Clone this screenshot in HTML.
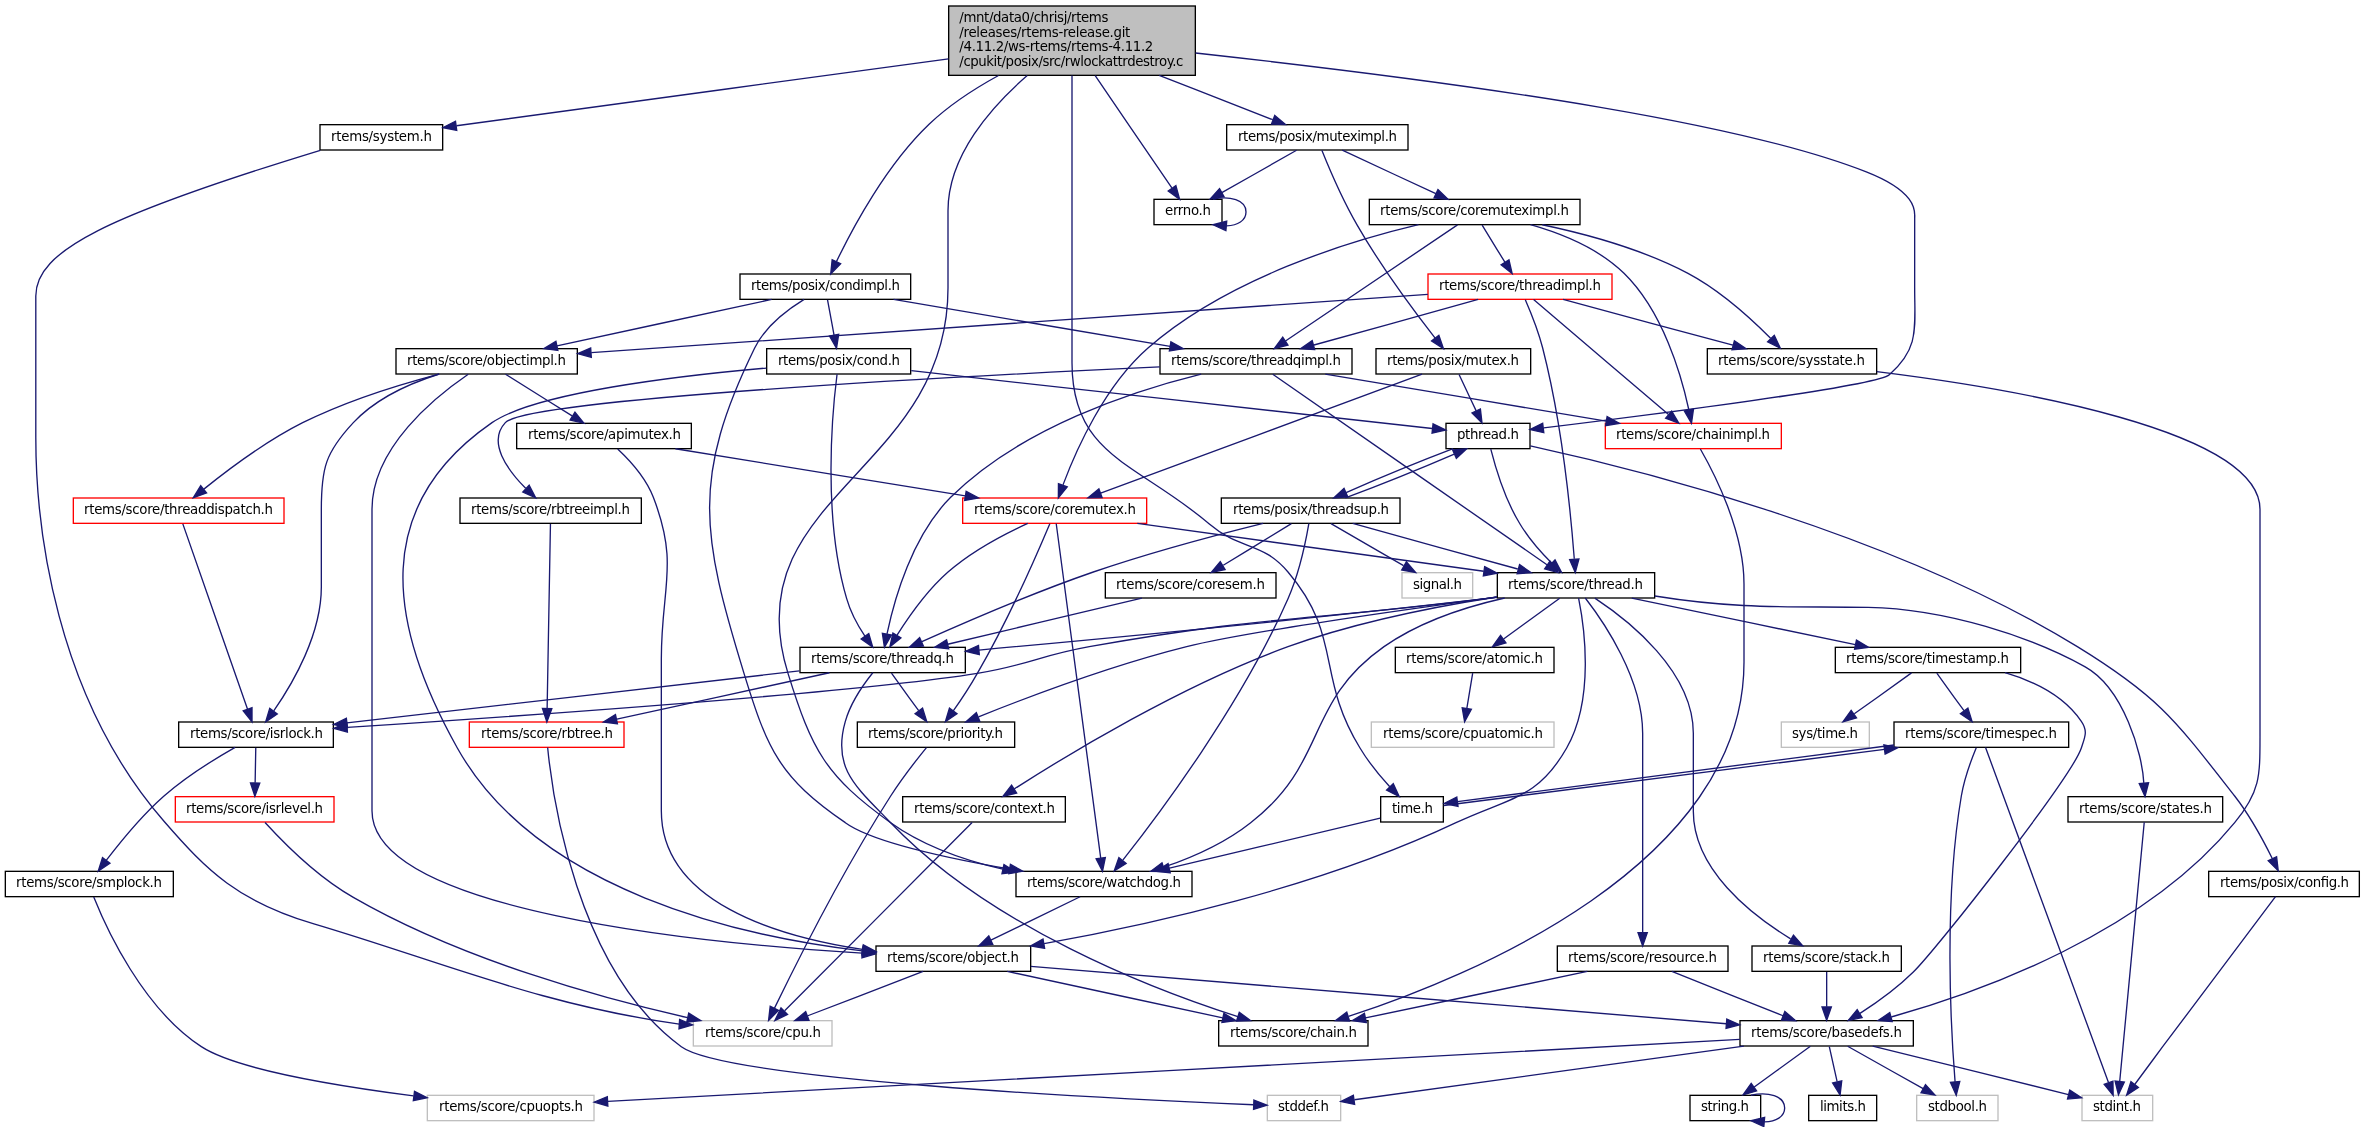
<!DOCTYPE html>
<html><head><meta charset="utf-8"><title>rwlockattrdestroy.c include dependency graph</title>
<style>
html,body{margin:0;padding:0;background:#fff}
body{width:2365px;height:1127px;overflow:hidden}
svg{display:block;will-change:transform}
text{font-family:"DejaVu Sans","Liberation Sans",sans-serif;font-size:13.333px;fill:#000;white-space:pre}
.e path{fill:none;stroke:#191970;stroke-width:1.333}
.e polygon{fill:#191970;stroke:#191970;stroke-width:1.333}
.n rect{stroke-width:1.333}
</style></head><body>
<svg width="2365" height="1127" viewBox="0 0 2365 1127">
<g class="n">
<rect x="948.67" y="6" width="246.67" height="69.33" fill="#bfbfbf" stroke="#000"/><text x="959.33" y="22" textLength="149">/mnt/data0/chrisj/rtems</text><text x="959.33" y="37" textLength="171">/releases/rtems-release.git</text><text x="959.33" y="51" textLength="194">/4.11.2/ws-rtems/rtems-4.11.2</text><text x="959.33" y="66" textLength="224">/cpukit/posix/src/rwlockattrdestroy.c</text>
<rect x="1446" y="423.33" width="84" height="25.33" fill="#fff" stroke="#000"/><text x="1457" y="439" textLength="62">pthread.h</text>
<rect x="1016" y="871.33" width="176" height="25.33" fill="#fff" stroke="#000"/><text x="1027" y="887" textLength="154">rtems/score/watchdog.h</text>
<rect x="1380.67" y="796.67" width="62.67" height="25.33" fill="#fff" stroke="#000"/><text x="1392" y="813" textLength="41">time.h</text>
<rect x="1154" y="199.33" width="68" height="25.33" fill="#fff" stroke="#000"/><text x="1165" y="215" textLength="46">errno.h</text>
<rect x="320" y="124.67" width="122.67" height="25.33" fill="#fff" stroke="#000"/><text x="331" y="141" textLength="101">rtems/system.h</text>
<rect x="740" y="274" width="170.67" height="25.33" fill="#fff" stroke="#000"/><text x="751" y="290" textLength="149">rtems/posix/condimpl.h</text>
<rect x="1226.67" y="124.67" width="181.33" height="25.33" fill="#fff" stroke="#000"/><text x="1238" y="141" textLength="159">rtems/posix/muteximpl.h</text>
<rect x="2208.67" y="871.33" width="150.67" height="25.33" fill="#fff" stroke="#000"/><text x="2220" y="887" textLength="129">rtems/posix/config.h</text>
<rect x="1221.33" y="498" width="178.67" height="25.33" fill="#fff" stroke="#000"/><text x="1233" y="514" textLength="156">rtems/posix/threadsup.h</text>
<rect x="1497.33" y="572.67" width="157.33" height="25.33" fill="#fff" stroke="#000"/><text x="1508" y="589" textLength="135">rtems/score/thread.h</text>
<rect x="2082" y="1095.33" width="70.67" height="25.33" fill="#fff" stroke="#bfbfbf"/><text x="2093" y="1111" textLength="48">stdint.h</text>
<rect x="1105.33" y="572.67" width="170.67" height="25.33" fill="#fff" stroke="#000"/><text x="1116" y="589" textLength="149">rtems/score/coresem.h</text>
<rect x="800" y="647.33" width="165.33" height="25.33" fill="#fff" stroke="#000"/><text x="811" y="663" textLength="143">rtems/score/threadq.h</text>
<rect x="1402" y="572.67" width="70.67" height="25.33" fill="#fff" stroke="#bfbfbf"/><text x="1413" y="589" textLength="49">signal.h</text>
<rect x="1218.67" y="1020.67" width="149.33" height="25.33" fill="#fff" stroke="#000"/><text x="1230" y="1037" textLength="127">rtems/score/chain.h</text>
<rect x="178.67" y="722" width="154.67" height="25.33" fill="#fff" stroke="#000"/><text x="190" y="738" textLength="133">rtems/score/isrlock.h</text>
<rect x="857.33" y="722" width="157.33" height="25.33" fill="#fff" stroke="#000"/><text x="868" y="738" textLength="135">rtems/score/priority.h</text>
<rect x="469.33" y="722" width="154.67" height="25.33" fill="#fff" stroke="#f00"/><text x="481" y="738" textLength="132">rtems/score/rbtree.h</text>
<rect x="175.33" y="796.67" width="158.67" height="25.33" fill="#fff" stroke="#f00"/><text x="186" y="813" textLength="137">rtems/score/isrlevel.h</text>
<rect x="5.33" y="871.33" width="168" height="25.33" fill="#fff" stroke="#000"/><text x="16" y="887" textLength="146">rtems/score/smplock.h</text>
<rect x="693.33" y="1020.67" width="138.67" height="25.33" fill="#fff" stroke="#bfbfbf"/><text x="705" y="1037" textLength="116">rtems/score/cpu.h</text>
<rect x="427.33" y="1095.33" width="166.67" height="25.33" fill="#fff" stroke="#bfbfbf"/><text x="439" y="1111" textLength="144">rtems/score/cpuopts.h</text>
<rect x="1267.33" y="1095.33" width="73.33" height="25.33" fill="#fff" stroke="#bfbfbf"/><text x="1278" y="1111" textLength="51">stddef.h</text>
<rect x="1395.33" y="647.33" width="158.67" height="25.33" fill="#fff" stroke="#000"/><text x="1406" y="663" textLength="137">rtems/score/atomic.h</text>
<rect x="902.67" y="796.67" width="162.67" height="25.33" fill="#fff" stroke="#000"/><text x="914" y="813" textLength="141">rtems/score/context.h</text>
<rect x="876" y="946" width="154.67" height="25.33" fill="#fff" stroke="#000"/><text x="887" y="962" textLength="132">rtems/score/object.h</text>
<rect x="1557.33" y="946" width="170.67" height="25.33" fill="#fff" stroke="#000"/><text x="1568" y="962" textLength="149">rtems/score/resource.h</text>
<rect x="1752" y="946" width="149.33" height="25.33" fill="#fff" stroke="#000"/><text x="1763" y="962" textLength="127">rtems/score/stack.h</text>
<rect x="2068" y="796.67" width="154.67" height="25.33" fill="#fff" stroke="#000"/><text x="2079" y="813" textLength="133">rtems/score/states.h</text>
<rect x="1835.33" y="647.33" width="185.33" height="25.33" fill="#fff" stroke="#000"/><text x="1846" y="663" textLength="163">rtems/score/timestamp.h</text>
<rect x="1371.33" y="722" width="182.67" height="25.33" fill="#fff" stroke="#bfbfbf"/><text x="1383" y="738" textLength="160">rtems/score/cpuatomic.h</text>
<rect x="1740" y="1020.67" width="173.33" height="25.33" fill="#fff" stroke="#000"/><text x="1751" y="1037" textLength="151">rtems/score/basedefs.h</text>
<rect x="1916.67" y="1095.33" width="81.33" height="25.33" fill="#fff" stroke="#bfbfbf"/><text x="1928" y="1111" textLength="59">stdbool.h</text>
<rect x="1808.67" y="1095.33" width="68" height="25.33" fill="#fff" stroke="#000"/><text x="1820" y="1111" textLength="46">limits.h</text>
<rect x="1690" y="1095.33" width="70.67" height="25.33" fill="#fff" stroke="#000"/><text x="1701" y="1111" textLength="48">string.h</text>
<rect x="1781.33" y="722" width="88" height="25.33" fill="#fff" stroke="#bfbfbf"/><text x="1792" y="738" textLength="66">sys/time.h</text>
<rect x="1894" y="722" width="174.67" height="25.33" fill="#fff" stroke="#000"/><text x="1905" y="738" textLength="152">rtems/score/timespec.h</text>
<rect x="766.67" y="348.67" width="144" height="25.33" fill="#fff" stroke="#000"/><text x="778" y="365" textLength="122">rtems/posix/cond.h</text>
<rect x="396" y="348.67" width="181.33" height="25.33" fill="#fff" stroke="#000"/><text x="407" y="365" textLength="159">rtems/score/objectimpl.h</text>
<rect x="1160" y="348.67" width="192" height="25.33" fill="#fff" stroke="#000"/><text x="1171" y="365" textLength="170">rtems/score/threadqimpl.h</text>
<rect x="516.67" y="423.33" width="174.67" height="25.33" fill="#fff" stroke="#000"/><text x="528" y="439" textLength="153">rtems/score/apimutex.h</text>
<rect x="73.33" y="498" width="210.67" height="25.33" fill="#fff" stroke="#f00"/><text x="84" y="514" textLength="189">rtems/score/threaddispatch.h</text>
<rect x="962.67" y="498" width="184" height="25.33" fill="#fff" stroke="#f00"/><text x="974" y="514" textLength="162">rtems/score/coremutex.h</text>
<rect x="1605.33" y="423.33" width="176" height="25.33" fill="#fff" stroke="#f00"/><text x="1616" y="439" textLength="154">rtems/score/chainimpl.h</text>
<rect x="460" y="498" width="181.33" height="25.33" fill="#fff" stroke="#000"/><text x="471" y="514" textLength="159">rtems/score/rbtreeimpl.h</text>
<rect x="1376" y="348.67" width="154.67" height="25.33" fill="#fff" stroke="#000"/><text x="1387" y="365" textLength="132">rtems/posix/mutex.h</text>
<rect x="1369.33" y="199.33" width="210.67" height="25.33" fill="#fff" stroke="#000"/><text x="1380" y="215" textLength="189">rtems/score/coremuteximpl.h</text>
<rect x="1707.33" y="348.67" width="169.33" height="25.33" fill="#fff" stroke="#000"/><text x="1718" y="365" textLength="147">rtems/score/sysstate.h</text>
<rect x="1428" y="274" width="184" height="25.33" fill="#fff" stroke="#f00"/><text x="1439" y="290" textLength="162">rtems/score/threadimpl.h</text>
</g>
<g class="e">
<path d="M1195.6,53C1501.9,86.9 1745.3,124.3 1866.3,171.9C1918.9,192.6 1914.7,212.7 1914.7,218C1914.67,210.67 1914.67,210.67 1914.67,288 1914.67,328.12 1919.57,348.28 1889.33,374.67 1876.41,385.93 1650.87,414.79 1543.69,427.93"/><polygon points="1543.81,432.63 1530.01,429.61 1542.68,423.36 1543.81,432.63"/>
<path d="M1027.23,75.53C991.72,106.31 948,155.41 948,210.67 948,210.67 948,210.67 948,288 948,473.43 733,496.24 788,673.33 811.89,750.24 825.17,775.77 890.67,822.67 923.41,846.11 965.04,860.4 1002.81,869.12"/><polygon points="1003.95,864.59 1015.99,871.97 1001.97,873.72 1003.95,864.59"/>
<path d="M1072,75.6C1072,109.64 1072,163.81 1072,210.67 1072,210.67 1072,210.67 1072,362.67 1072,456.83 1137.72,462.85 1209.33,524 1240.48,550.59 1261.44,540.81 1288,572 1342.81,636.32 1315.73,676 1360,748 1368.33,761.91 1379.67,775.8 1389.75,786.71"/><polygon points="1393.31,783.68 1399.22,796.51 1386.59,790.16 1393.31,783.68"/>
<path d="M1095.2,75.72C1117.96,109.05 1152.08,159.12 1171.84,187.97"/><polygon points="1175.9,185.63 1179.61,199.27 1168.21,190.92 1175.9,185.63"/>
<path d="M948.52,58.8C805.57,78.25 574.68,109.68 456.41,125.77"/><polygon points="456.75,130.44 442.91,127.61 455.49,121.19 456.75,130.44"/>
<path d="M998.51,75.51C974.77,88.51 949.43,104.91 929.33,124 886.14,165.15 852.68,227.8 836.45,261.64"/><polygon points="840.61,263.76 830.73,273.85 832.16,259.8 840.61,263.76"/>
<path d="M1159.19,75.4C1197.84,90.45 1241.3,107.53 1272.78,119.72"/><polygon points="1274.79,115.49 1285.58,124.63 1271.44,124.21 1274.79,115.49"/>
<path d="M1530.28,445.95C1630.89,467.77 1890.16,531.83 2077.33,646.67 2159.51,697.08 2175.21,720.09 2234.67,796 2249.87,815.55 2263.3,840.4 2272.26,858.47"/><polygon points="2276.61,856.73 2278.22,870.77 2268.21,860.8 2276.61,856.73"/>
<path d="M1453.12,448.73C1422.03,460.53 1377.03,479.08 1346.08,492.55"/><polygon points="1347.78,496.89 1333.7,497.97 1344.03,488.35 1347.78,496.89"/>
<path d="M1490.79,449.21C1495.19,466.56 1504.85,499.41 1520,524 1528.59,538.33 1540.73,552.23 1551.63,563.03"/><polygon points="1555.02,559.8 1561.52,572.35 1548.62,566.6 1555.02,559.8"/>
<path d="M2275.48,896.68C2255.68,923.03 2205.07,990.41 2162.67,1046.67 2153.39,1059.2 2143.15,1073.19 2134.7,1084.51"/><polygon points="2138.41,1087.35 2126.64,1095.16 2130.96,1081.72 2138.41,1087.35"/>
<path d="M1345.41,497.97C1377,486.2 1423,467.65 1454.27,454.17"/><polygon points="1452.6,449.81 1466.68,448.73 1456.35,458.36 1452.6,449.81"/>
<path d="M1291.39,523.56C1273.07,534.79 1245.06,552.03 1223.29,565.23"/><polygon points="1225.07,569.6 1211.23,572.45 1220.27,561.59 1225.07,569.6"/>
<path d="M1263.11,523.36C1218.73,534.37 1150.92,552.28 1093.33,572 1032.09,593.15 963.33,623.07 921.88,641.65"/><polygon points="923.46,646.07 909.38,647.25 919.63,637.55 923.46,646.07"/>
<path d="M1352.71,523.4C1397.24,535.72 1468.18,555.41 1517.74,568.99"/><polygon points="1519.56,564.64 1531.21,572.64 1517.12,573.65 1519.56,564.64"/>
<path d="M1308.84,523.6C1305.91,540.6 1299.29,573.04 1288,598.67 1241.84,703.76 1159.3,813.99 1122.83,860.2"/><polygon points="1126.16,863.51 1114.2,871 1118.88,857.68 1126.16,863.51"/>
<path d="M1331.01,523.56C1350.54,534.89 1380.47,552.36 1403.56,565.6"/><polygon points="1406.34,561.81 1415.62,572.45 1401.72,569.92 1406.34,561.81"/>
<path d="M1141.87,598.07C1089.38,610.57 1005.3,630.67 947.7,644.25"/><polygon points="948.7,648.81 934.65,647.31 946.57,639.72 948.7,648.81"/>
<path d="M872.79,672.77C863.63,684.2 850.65,702.69 845.33,721.33 831.77,768.77 856.43,787.13 890.67,822.67 990.84,927.4 1154.2,989.95 1237.86,1016.68"/><polygon points="1239.28,1012.23 1250.63,1020.65 1236.51,1021.15 1239.28,1012.23"/>
<path d="M799.45,670.89C682,684.39 468.4,708.92 346.91,722.88"/><polygon points="347.43,727.52 333.64,724.4 346.36,718.25 347.43,727.52"/>
<path d="M891.48,673.21C898.83,683.39 909.55,698.31 918.68,710.73"/><polygon points="922.58,708.17 926.77,721.65 915.08,713.72 922.58,708.17"/>
<path d="M829.43,672.73C771.93,685.29 679.67,705.51 616.83,719.09"/><polygon points="617.41,723.75 603.39,721.97 615.46,714.61 617.41,723.75"/>
<path d="M255.77,747.88C255.6,757.32 255.36,770.84 255.13,782.68"/><polygon points="259.8,783.08 254.88,796.32 250.47,782.91 259.8,783.08"/>
<path d="M235.11,747.35C215.65,758.41 186.39,776.4 164,796 141.86,815.52 120.51,841.75 106.4,860.21"/><polygon points="109.97,863.24 98.23,871.09 102.51,857.63 109.97,863.24"/>
<path d="M265.05,822.43C281.88,840.84 316.91,876.51 353.33,897.33 462.14,960.15 603.59,998.75 687.68,1017.71"/><polygon points="688.72,1013.16 700.74,1020.59 686.72,1022.28 688.72,1013.16"/>
<path d="M93.75,897C105.83,927.21 142.49,1008.29 201.33,1046.67 235.76,1069.11 336.31,1085.87 413.52,1095.89"/><polygon points="414.51,1091.31 427.15,1097.63 413.33,1100.57 414.51,1091.31"/>
<path d="M926.43,747.57C916.85,759.39 901.97,778.43 890.67,796 842.75,870.61 795.57,964.77 774.5,1008.15"/><polygon points="778.6,1010.37 768.59,1020.35 770.2,1006.31 778.6,1010.37"/>
<path d="M547.64,747.55C552.24,794.24 576.28,970.24 681.33,1046.67 727.24,1080.05 1113.45,1098.92 1253.52,1104.72"/><polygon points="1253.92,1100.07 1267.05,1105.27 1253.55,1109.39 1253.92,1100.07"/>
<path d="M1496.91,597.28C1492.99,597.76 1489.12,598.23 1485.33,598.67 1306.81,619.36 1098.04,639.16 978.97,650.04"/><polygon points="979.32,654.69 965.61,651.25 978.48,645.4 979.32,654.69"/>
<path d="M1496.89,597.19C1492.99,597.68 1489.12,598.19 1485.33,598.67 1309.45,620.96 1263.84,615.41 1089.33,646.67 1038.96,655.68 1027.87,665.25 977.33,673.33 858.44,692.32 513.41,716.49 347.37,727.45"/><polygon points="347.41,732.12 333.8,728.35 346.8,722.81 347.41,732.12"/>
<path d="M1497.03,597.12C1400.79,610.16 1243.92,632.47 1186.67,646.67 1111.48,665.44 1027.22,697.36 978.52,716.77"/><polygon points="979.81,721.29 965.69,721.91 976.35,712.63 979.81,721.29"/>
<path d="M1559.72,598.23C1544.63,609.19 1521.79,625.85 1503.58,638.92"/><polygon points="1505.94,642.96 1492.37,646.88 1500.54,635.36 1505.94,642.96"/>
<path d="M1496.73,597C1437.93,606.15 1356.45,621.93 1288,646.67 1181.72,685.19 1066.81,755.25 1014.33,788.93"/><polygon points="1016.65,792.99 1002.91,796.29 1011.59,785.15 1016.65,792.99"/>
<path d="M1578.59,598.17C1584.2,626.05 1594.84,698.49 1566.67,748 1537.31,799.56 1509.67,797.35 1456,822.67 1319.23,887.59 1146.69,925.37 1044.11,943.63"/><polygon points="1044.6,948.28 1030.67,945.97 1043,939.08 1044.6,948.28"/>
<path d="M1585.27,598.01C1603.59,621.65 1642.67,678.51 1642.67,733.33 1642.67,733.33 1642.67,733.33 1642.67,810.67 1642.67,853.4 1642.67,903.13 1642.67,932.33"/><polygon points="1647.33,932.59 1642.67,945.92 1638,932.59 1647.33,932.59"/>
<path d="M1594.85,598.17C1628.01,620.05 1693.33,671.04 1693.33,733.33 1693.33,733.33 1693.33,733.33 1693.33,810.67 1692.92,869.35 1751.34,914.93 1790.63,938.83"/><polygon points="1793.47,935.08 1802.67,945.81 1788.79,943.16 1793.47,935.08"/>
<path d="M1654.8,596C1741.4,610 1796.4,606 1868.3,607.4C1946.2,609 2031.2,636.8 2085.2,666.8C2123.6,688.1 2142.4,753.8 2143.8,782.9"/><polygon points="2148.56,782.76 2145.01,796.43 2139.25,783.53 2148.56,782.76"/>
<path d="M1504.68,598C1466.33,606.67 1419.72,621.56 1384,646.67 1303.72,703.09 1328.47,762.85 1250.67,822.67 1224.94,843.01 1191.96,857.56 1163.54,867.23"/><polygon points="1164.86,871.69 1150.74,871.32 1162.02,862.81 1164.86,871.69"/>
<path d="M1631.77,598.07C1692.27,610.68 1789.49,631.01 1855.35,644.6"/><polygon points="1856.46,640.07 1868.58,647.31 1854.59,649.2 1856.46,640.07"/>
<path d="M1472.68,673.21C1471.09,682.76 1468.81,696.48 1466.83,708.4"/><polygon points="1471.4,709.28 1464.61,721.65 1462.2,707.73 1471.4,709.28"/>
<path d="M972.11,822.56C936.6,858.31 830.27,965.07 784.65,1010.81"/><polygon points="787.61,1014.44 774.89,1020.57 781.01,1007.84 787.61,1014.44"/>
<path d="M1007.21,971.4C1065.51,983.99 1159.15,1004.25 1222.75,1017.84"/><polygon points="1223.87,1013.31 1235.94,1020.64 1221.94,1022.44 1223.87,1013.31"/>
<path d="M923.12,971.4C892.1,983.36 843.25,1002.24 807.8,1015.75"/><polygon points="808.97,1020.29 794.85,1020.64 805.68,1011.56 808.97,1020.29"/>
<path d="M1030.84,966.39C1189.31,979.45 1550.27,1009.2 1726.35,1023.72"/><polygon points="1726.81,1019.08 1739.72,1024.83 1726.05,1028.39 1726.81,1019.08"/>
<path d="M1872.72,1046.07C1926.15,1059.31 2013.84,1081.03 2068.44,1094.55"/><polygon points="2069.75,1090.07 2081.57,1097.8 2067.51,1099.12 2069.75,1090.07"/>
<path d="M1739.81,1039.41C1504.35,1052.29 854.93,1087.83 607.83,1101.35"/><polygon points="607.83,1106.01 594.25,1102.09 607.32,1096.69 607.83,1106.01"/>
<path d="M1743.85,1046.07C1634.28,1061.16 1444.53,1087.31 1354.37,1099.72"/><polygon points="1354.63,1104.4 1340.79,1101.59 1353.35,1095.15 1354.63,1104.4"/>
<path d="M1847.67,1046.23C1867.99,1057.67 1899.28,1075.35 1923.16,1088.63"/><polygon points="1925.51,1084.6 1934.94,1095.12 1921.02,1092.77 1925.51,1084.6"/>
<path d="M1829.31,1046.55C1831.43,1056.09 1834.48,1069.81 1837.13,1081.73"/><polygon points="1841.73,1080.96 1840.08,1094.99 1832.63,1082.99 1841.73,1080.96"/>
<path d="M1810.39,1046.23C1795.3,1057.19 1772.45,1073.85 1754.25,1086.92"/><polygon points="1756.61,1090.96 1743.04,1094.88 1751.21,1083.36 1756.61,1090.96"/>
<path d="M1750.95,1095.23C1768.04,1091.64 1784.67,1095.89 1784.67,1108 1784.67,1116.79 1775.89,1121.44 1764.53,1121.95"/><polygon points="1763.83,1126.57 1750.95,1120.76 1764.64,1117.27 1763.83,1126.57"/>
<path d="M1587.32,971.4C1527.28,984.01 1430.79,1004.35 1365.44,1017.93"/><polygon points="1366.31,1022.52 1352.31,1020.64 1364.43,1013.37 1366.31,1022.52"/>
<path d="M1671.83,971.4C1701.76,983.36 1748.9,1002.24 1783.12,1015.75"/><polygon points="1784.89,1011.44 1795.61,1020.64 1781.49,1020.12 1784.89,1011.44"/>
<path d="M1826.67,971.88C1826.67,981.32 1826.67,994.84 1826.67,1006.68"/><polygon points="1831.33,1006.99 1826.67,1020.32 1822,1006.99 1831.33,1006.99"/>
<path d="M2144.24,822.27C2140.12,865.81 2125.52,1020.17 2119.72,1081.39"/><polygon points="2124.36,1081.99 2118.45,1094.81 2115.07,1081.11 2124.36,1081.99"/>
<path d="M1080.12,896.73C1056.17,908.43 1018.74,926.75 990.88,940.19"/><polygon points="992.8,944.43 978.76,945.97 988.78,936.01 992.8,944.43"/>
<path d="M2005.04,672.73C2033.92,681.16 2063.93,695.83 2081.33,721.33 2088.01,731.12 2085.08,736.75 2081.33,748 2071.49,777.51 1935.75,950.41 1913.33,972 1897.28,987.83 1877,1002.47 1860,1013.33"/><polygon points="1862.07,1017.53 1848.26,1020.53 1857.19,1009.59 1862.07,1017.53"/>
<path d="M1911.51,672.89C1896.13,683.92 1872.8,700.72 1854.29,713.81"/><polygon points="1856.53,717.95 1842.93,721.79 1851.17,710.31 1856.53,717.95"/>
<path d="M1936.81,673.21C1944.17,683.39 1954.89,698.31 1964.01,710.73"/><polygon points="1967.92,708.17 1972.1,721.65 1960.41,713.72 1967.92,708.17"/>
<path d="M1985.55,747.49C2004.51,799.16 2082.04,1010.48 2108.47,1082.49"/><polygon points="2112.95,1081.17 2113.16,1095.29 2104.19,1084.39 2112.95,1081.17"/>
<path d="M1976.24,747.67C1971.35,759.56 1964.25,778.67 1961.33,796 1943.59,901.04 1950.84,1028.91 1955.08,1081.87"/><polygon points="1959.75,1081.59 1956.23,1095.27 1950.44,1082.37 1959.75,1081.59"/>
<path d="M1894,745L1457.4,801.7"/><polygon points="1456.78,797.07 1444.18,803.46 1458.02,806.33 1456.78,797.07"/>
<path d="M1380.2,818.09C1330.85,829.87 1233.7,853.01 1169.44,868.16"/><polygon points="1170.21,872.77 1156.16,871.27 1168.09,863.68 1170.21,872.77"/>
<path d="M1443.7,805.5L1884.5,749.4"/><polygon points="1885.1,754.03 1897.72,747.7 1883.9,744.77 1885.1,754.03"/>
<path d="M1213.04,199.23C1229.75,195.64 1246,199.89 1246,212 1246,220.69 1237.6,225.33 1226.68,225.93"/><polygon points="1225.92,230.55 1213.04,224.76 1226.72,221.25 1225.92,230.55"/>
<path d="M320.3,150.3C105.7,215.8 35.8,251 35.8,296C35.8,296 35.8,296 35.8,437.2C35.8,527 55.1,695.9 164,821.3C207.2,871.2 238.4,901.6 313.9,923.9C438.7,960.8 541.2,1005.1 679.3,1024.1"/><polygon points="678.99,1028.76 692.6,1024.99 679.61,1019.44 678.99,1028.76"/>
<path d="M804.13,299.39C787.4,309.65 765.19,326.44 754.67,348 691.19,477.99 701.51,535.04 744,673.33 767.56,750 779.19,777.29 845.33,822.67 871.26,841.4 946.89,858.03 1009.52,868.99"/><polygon points="1010.42,864.4 1022.78,871.24 1008.86,873.6 1010.42,864.4"/>
<path d="M827.53,299.88C829.31,309.43 831.84,323.15 834.05,335.07"/><polygon points="838.67,334.36 836.51,348.32 829.49,336.07 838.67,334.36"/>
<path d="M771.67,299.4C713.6,311.99 620.33,332.25 556.98,345.84"/><polygon points="557.86,350.43 543.85,348.64 555.92,341.31 557.86,350.43"/>
<path d="M893.57,299.4C968.52,312.17 1089.58,332.85 1170.14,346.44"/><polygon points="1170.91,341.84 1183.3,348.64 1169.38,351.04 1170.91,341.84"/>
<path d="M911.27,370.71C1042.12,385.23 1314.87,415.47 1432.27,428.48"/><polygon points="1433.07,423.87 1445.8,429.99 1432.04,433.15 1433.07,423.87"/>
<path d="M837.05,374.28C832.61,409.17 822.17,515.71 846.67,598.67 850.44,612.04 857.78,625.48 864.92,636.24"/><polygon points="868.74,633.55 872.7,647.11 861.15,638.97 868.74,633.55"/>
<path d="M766.29,368.05C678.08,375.83 535.4,392.67 492,422.67 372.39,505.35 386.24,621.15 457.33,748 537.85,891.67 742.52,936.73 862.28,950.87"/><polygon points="863,946.25 875.73,952.37 861.97,955.53 863,946.25"/>
<path d="M439.21,374.01C410.93,382.97 376.19,398.16 353.33,422.67 325.32,452.68 321.33,468.27 321.33,509.33 321.33,509.33 321.33,509.33 321.33,586.67 321.51,634.04 293.03,683.16 273.75,710.83"/><polygon points="277.29,713.91 265.66,721.93 269.74,708.41 277.29,713.91"/>
<path d="M468.24,374.28C435.83,396.33 372,447.59 372,509.33 372,509.33 372,509.33 372,810.67 372,910.51 698.51,943.08 862.13,953.12"/><polygon points="862.51,948.47 875.53,953.92 861.95,957.79 862.51,948.47"/>
<path d="M505.52,374.23C523.44,385.45 550.81,402.69 572.11,415.89"/><polygon points="574.97,412.17 583.9,423.12 570.09,420.12 574.97,412.17"/>
<path d="M439.04,374.04C400.97,384.11 346.87,400.61 302.67,422.67 265.81,441.2 227.77,469.89 203.87,489.13"/><polygon points="206.59,492.95 193.3,497.73 200.7,485.71 206.59,492.95"/>
<path d="M617.69,449.08C629.52,460.17 645.84,477.96 653.33,497.33 679.21,564.29 661.33,586.87 661.33,658.67 661.33,658.67 661.33,658.67 661.33,810.67 661.33,901.93 776.67,936.41 862.37,949.43"/><polygon points="863.31,944.85 875.85,951.35 861.99,954.09 863.31,944.85"/>
<path d="M675.41,448.73C754.01,461.53 881.07,482.27 965.35,495.85"/><polygon points="966.16,491.25 978.59,497.97 964.69,500.48 966.16,491.25"/>
<path d="M1027.75,523.33C1004.92,533.79 972.15,550.87 948,572 927.18,590.33 908.9,616.4 897.05,635.16"/><polygon points="900.86,637.87 889.9,646.79 892.92,632.97 900.86,637.87"/>
<path d="M1049.83,523.65C1038.45,550.65 1008.63,619.31 977.33,673.33 970.05,686.19 961.06,699.88 953.25,710.93"/><polygon points="957.01,713.71 945.38,721.73 949.46,708.2 957.01,713.71"/>
<path d="M1137.28,523.4C1231.6,536.43 1385.52,557.69 1483.72,571.25"/><polygon points="1484.63,566.67 1497.19,573.11 1483.35,575.91 1484.63,566.67"/>
<path d="M1056.2,523.49C1063.07,575.05 1091.08,785.6 1100.72,858.04"/><polygon points="1105.36,857.47 1102.49,871.29 1096.11,858.69 1105.36,857.47"/>
<path d="M182.83,523.89C195.05,558.88 231.05,661.93 247.56,709.17"/><polygon points="252.01,707.77 252.01,721.91 243.2,710.85 252.01,707.77"/>
<path d="M1201.17,374.08C1134.19,390.61 1021.08,427.23 950.67,497.33 912.2,535.63 894.31,598.99 887.01,633.83"/><polygon points="891.53,635.03 884.43,647.24 882.36,633.27 891.53,635.03"/>
<path d="M1272.76,374.25C1324.36,410.17 1482.47,519.99 1546.97,564.72"/><polygon points="1549.95,561.09 1558.25,572.52 1544.63,568.77 1549.95,561.09"/>
<path d="M1325.29,374.07C1401.41,386.84 1524.36,407.52 1606.15,421.11"/><polygon points="1607.11,416.53 1619.51,423.31 1605.59,425.75 1607.11,416.53"/>
<path d="M1159.75,366.91C962.13,376.11 527.23,398.95 505.33,422.67 487.29,441.92 506.99,469.48 525.66,488.32"/><polygon points="529.2,485.24 535.72,497.77 522.8,492.04 529.2,485.24"/>
<path d="M1700.37,449.01C1714.31,473.27 1744,531.19 1744,584 1744,584 1744,584 1744,661.33 1744.76,865.44 1466.98,977.87 1348.45,1016.49"/><polygon points="1349.57,1021.04 1335.45,1020.63 1346.75,1012.15 1349.57,1021.04"/>
<path d="M550.45,523.89C549.83,558.73 547.97,661.04 547.12,708.56"/><polygon points="551.79,708.65 546.87,721.91 542.45,708.49 551.79,708.65"/>
<path d="M1296.56,150.23C1276.43,161.67 1245.47,179.35 1221.83,192.63"/><polygon points="1224.09,196.71 1210.17,199.12 1219.55,188.56 1224.09,196.71"/>
<path d="M1321.85,150.21C1328.67,167.16 1342.36,199.53 1357.33,225.33 1381.38,267.11 1414.87,312.13 1435.14,338.09"/><polygon points="1438.84,335.25 1443.46,348.6 1431.52,341.04 1438.84,335.25"/>
<path d="M1342.27,150.07C1367.4,161.81 1406.72,180.24 1435.85,193.69"/><polygon points="1437.92,189.51 1448.1,199.31 1434.04,198 1437.92,189.51"/>
<path d="M1459.05,374.55C1463.68,384.4 1470.36,398.72 1476.17,410.91"/><polygon points="1480.41,408.96 1482,422.99 1472,413 1480.41,408.96"/>
<path d="M1422.05,374.17C1352.1,400.13 1181.48,463.36 1100.66,493.21"/><polygon points="1102.11,497.65 1087.98,497.87 1098.89,488.89 1102.11,497.65"/>
<path d="M1418.49,224.72C1348.28,241.4 1227.64,278.32 1148,348 1104.31,386.21 1076.03,450.08 1063,484.89"/><polygon points="1067.24,486.89 1058.36,497.87 1058.45,483.75 1067.24,486.89"/>
<path d="M1457.51,224.84C1420.35,250 1331.34,310.15 1285.5,341.01"/><polygon points="1287.94,344.99 1274.27,348.53 1282.74,337.24 1287.94,344.99"/>
<path d="M1530.51,224.69C1561.37,233.45 1598.51,248.44 1624,273.33 1662.95,311.36 1681.29,374.84 1688.83,409.75"/><polygon points="1693.48,409.21 1691.49,423.2 1684.33,411.03 1693.48,409.21"/>
<path d="M1542.27,224.76C1585.64,233.89 1642.21,249.23 1688,273.33 1720.06,290.32 1751,318.57 1770.58,338.19"/><polygon points="1774.26,335.27 1780.25,348.07 1767.59,341.8 1774.26,335.27"/>
<path d="M1482.15,225.21C1488.34,235.28 1497.33,250 1505.03,262.36"/><polygon points="1508.99,259.89 1512.15,273.65 1501.1,264.87 1508.99,259.89"/>
<path d="M1876.75,371.67C2011.61,388.37 2260,429.93 2260,509.33 2260,509.33 2260,509.33 2260,736 2260,776.12 2260.23,791.72 2234.67,822.67 2144.03,933.43 1980.37,992.05 1891.28,1017.01"/><polygon points="1892.2,1021.6 1878.11,1020.59 1889.76,1012.59 1892.2,1021.6"/>
<path d="M1525.31,299.69C1530.49,311.61 1538.24,330.73 1542.67,348 1561.96,423.32 1570.89,515.23 1574.28,558.79"/><polygon points="1578.96,558.88 1575.28,572.52 1569.65,559.56 1578.96,558.88"/>
<path d="M1427.84,294.41C1235.76,307.8 793.64,338.6 591.25,352.71"/><polygon points="591.32,357.37 577.69,353.65 590.67,348.07 591.32,357.37"/>
<path d="M1478.17,299.4C1433.87,311.72 1363.29,331.41 1313.97,344.99"/><polygon points="1314.66,349.63 1300.57,348.64 1312.2,340.63 1314.66,349.63"/>
<path d="M1533.6,299.51C1562.68,324.35 1631.81,383.28 1668.53,414.48"/><polygon points="1671.68,411.03 1678.85,423.2 1665.65,418.16 1671.68,411.03"/>
<path d="M1563.09,299.4C1608.94,311.77 1682.1,331.59 1732.93,345.16"/><polygon points="1734.39,340.72 1746.09,348.64 1731.99,349.73 1734.39,340.72"/>
</g>
</svg>
</body></html>
